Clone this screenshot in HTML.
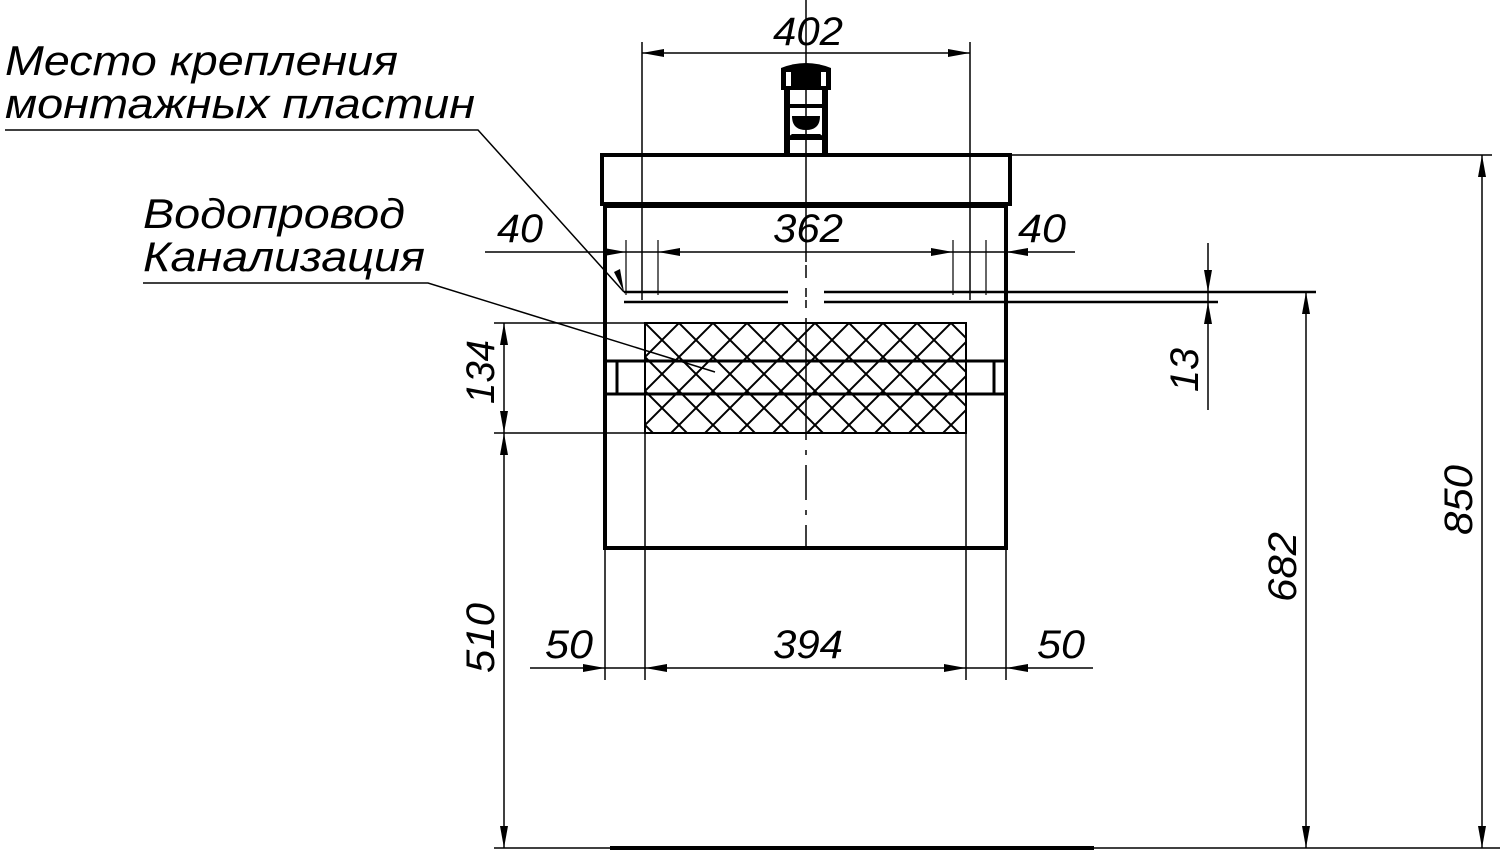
<!DOCTYPE html>
<html><head><meta charset="utf-8"><style>
html,body{margin:0;padding:0;background:#fff;}
svg{display:block;}
text{font-family:"Liberation Sans",sans-serif;font-style:italic;fill:#000;}
</style></head><body>
<svg width="1500" height="852" viewBox="0 0 1500 852" xmlns="http://www.w3.org/2000/svg">
<defs>
<pattern id="hatch" patternUnits="userSpaceOnUse" width="34" height="34" x="645" y="323">
<path d="M0 0L34 34M34 0L0 34M-17 17L17 -17M17 51L51 17M-17 17L17 51M17 -17L51 17" stroke="#000" stroke-width="2" fill="none"/>
</pattern>
</defs>
<g stroke="#000" fill="none">
<rect x="602" y="155" width="408" height="49" stroke-width="4"/>
<rect x="605" y="206" width="401" height="342" stroke-width="4"/>
<line x1="615" y1="206" x2="998" y2="206" stroke-width="3"/>
<rect x="645" y="323" width="321" height="110" fill="url(#hatch)" stroke-width="2"/>
<line x1="605" y1="361" x2="1006" y2="361" stroke-width="3"/>
<line x1="605" y1="394" x2="1006" y2="394" stroke-width="3"/>
<line x1="617" y1="361" x2="617" y2="394" stroke-width="3"/>
<line x1="994" y1="361" x2="994" y2="394" stroke-width="3"/>
<line x1="645" y1="433" x2="645" y2="548" stroke-width="1.5"/>
<line x1="966" y1="433" x2="966" y2="548" stroke-width="1.5"/>
<!-- center line -->
<line x1="806" y1="0" x2="806" y2="262" stroke-width="1.5"/>
<path d="M806 265V278M806 288V297M806 300V308M806 318V440M806 450V455M806 465V500M806 510V515M806 525V548" stroke-width="1.5"/>
<line x1="642" y1="42" x2="642" y2="300" stroke-width="1.5"/>
<line x1="970" y1="42" x2="970" y2="300" stroke-width="1.5"/>
<line x1="642" y1="53" x2="970" y2="53" stroke-width="1.5"/>
<line x1="485" y1="252" x2="1075" y2="252" stroke-width="1.5"/>
<line x1="626" y1="240" x2="626" y2="295" stroke-width="1.2"/>
<line x1="658" y1="240" x2="658" y2="295" stroke-width="1.2"/>
<line x1="953" y1="240" x2="953" y2="295" stroke-width="1.2"/>
<line x1="986" y1="240" x2="986" y2="295" stroke-width="1.2"/>
<path d="M624 292H788M824 292H1316M624 302H788M824 302H1218" stroke-width="2.5"/>
<line x1="494" y1="323" x2="645" y2="323" stroke-width="1.5"/>
<line x1="494" y1="433" x2="645" y2="433" stroke-width="1.5"/>
<line x1="504" y1="323" x2="504" y2="848" stroke-width="1.5"/>
<line x1="1208" y1="243" x2="1208" y2="410" stroke-width="1.5"/>
<line x1="1306" y1="292" x2="1306" y2="848" stroke-width="1.5"/>
<line x1="1010" y1="155" x2="1492" y2="155" stroke-width="1.5"/>
<line x1="1482" y1="155" x2="1482" y2="848" stroke-width="1.5"/>
<line x1="605" y1="548" x2="605" y2="680" stroke-width="1.5"/>
<line x1="1006" y1="548" x2="1006" y2="680" stroke-width="1.5"/>
<line x1="645" y1="548" x2="645" y2="680" stroke-width="1.5"/>
<line x1="966" y1="548" x2="966" y2="680" stroke-width="1.5"/>
<line x1="530" y1="668" x2="1093" y2="668" stroke-width="1.5"/>
<line x1="494" y1="848" x2="1500" y2="848" stroke-width="1.5"/>
<line x1="610" y1="848" x2="1094" y2="848" stroke-width="4"/>
<path d="M5 130H478L624 292" stroke-width="1.5"/>
<path d="M143 283H428L715 372" stroke-width="1.5"/>
</g>
<g fill="#000">
<path d="M642 53l22 -4v8z"/><path d="M970 53l-22 -4v8z"/>
<path d="M658 252l22 -4v8z"/><path d="M953 252l-22 -4v8z"/>
<path d="M626 252l-22 -4v8z"/><path d="M1006 252l22 -4v8z"/>
<path d="M605 668l-22 -4v8z"/><path d="M645 668l22 -4v8z"/>
<path d="M966 668l-22 -4v8z"/><path d="M1006 668l22 -4v8z"/>
<path d="M1208 292l-4 -22h8z"/><path d="M1208 302l-4 22h8z"/>
<path d="M1306 292l-4 22h8z"/><path d="M1306 848l-4 -22h8z"/>
<path d="M1482 155l-4 22h8z"/><path d="M1482 848l-4 -22h8z"/>
<path d="M504 323l-4 22h8z"/><path d="M504 433l-4 -22h8z"/>
<path d="M504 433l-4 22h8z"/><path d="M504 848l-4 -22h8z"/>
<path d="M624 292l-10 -20l6 -3z"/>
<!-- faucet -->
<path d="M781 68q25 -10 50 0v22h-50z"/>
<rect x="786" y="72" width="5" height="14" fill="#fff"/><rect x="821" y="72" width="5" height="14" fill="#fff"/>
<rect x="784" y="90" width="6" height="65"/><rect x="822" y="90" width="6" height="65"/>
<rect x="788" y="104" width="36" height="4"/>
<path d="M792 116h28q0 14 -14 14q-14 0 -14 -14z"/>
<path d="M784 140l8 -6h28l8 6z"/>
</g>
<g font-size="42">
<text x="5" y="75" textLength="393" lengthAdjust="spacingAndGlyphs">Место крепления</text>
<text x="5" y="118" textLength="470" lengthAdjust="spacingAndGlyphs">монтажных пластин</text>
<text x="143" y="228" textLength="262" lengthAdjust="spacingAndGlyphs">Водопровод</text>
<text x="143" y="271" textLength="282" lengthAdjust="spacingAndGlyphs">Канализация</text>
</g>
<g font-size="40">
<text x="773" y="45" textLength="70" lengthAdjust="spacingAndGlyphs">402</text>
<text x="773" y="242" textLength="70" lengthAdjust="spacingAndGlyphs">362</text>
<text x="497" y="242" textLength="46" lengthAdjust="spacingAndGlyphs">40</text>
<text x="1018" y="242" textLength="48" lengthAdjust="spacingAndGlyphs">40</text>
<text x="545" y="658" textLength="48" lengthAdjust="spacingAndGlyphs">50</text>
<text x="773" y="658" textLength="70" lengthAdjust="spacingAndGlyphs">394</text>
<text x="1037" y="658" textLength="48" lengthAdjust="spacingAndGlyphs">50</text>
<text transform="translate(494,404) rotate(-90)" textLength="64" lengthAdjust="spacingAndGlyphs">134</text>
<text transform="translate(1198,392) rotate(-90)" textLength="44" lengthAdjust="spacingAndGlyphs">13</text>
<text transform="translate(494,673) rotate(-90)" textLength="70" lengthAdjust="spacingAndGlyphs">510</text>
<text transform="translate(1296,602) rotate(-90)" textLength="70" lengthAdjust="spacingAndGlyphs">682</text>
<text transform="translate(1472,535) rotate(-90)" textLength="70" lengthAdjust="spacingAndGlyphs">850</text>
</g>
</svg>
</body></html>
